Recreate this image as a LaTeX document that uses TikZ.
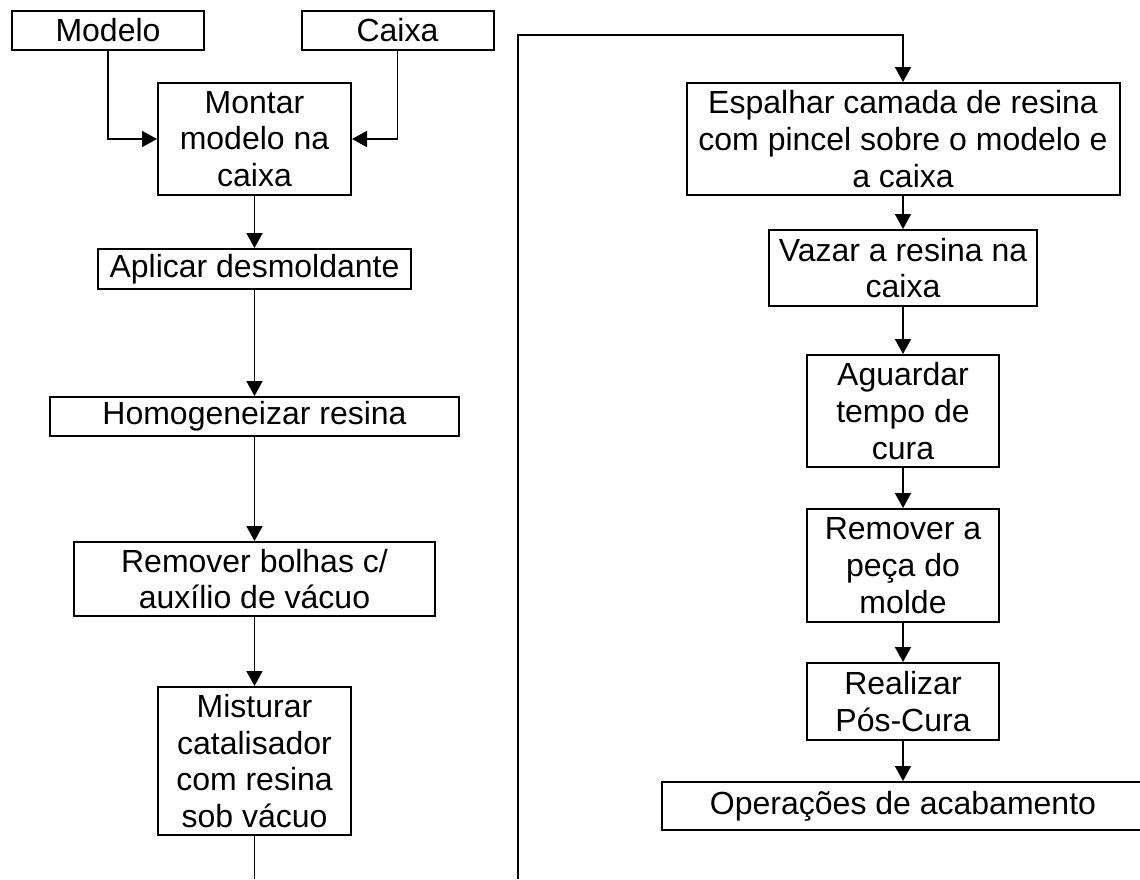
\documentclass[tikz,border=0pt]{standalone}
\usepackage{fontspec}
\setmainfont{Liberation Sans}
\usetikzlibrary{arrows.meta}
\begin{document}
\begin{tikzpicture}[x=1pt,y=-1pt,
  every node/.style={font=\fontsize{32}{36.8}\selectfont},
  box/.style={draw,line width=2pt,inner sep=0pt,align=center},
  conn/.style={line width=1.8pt},
  arr/.style={conn,-{Triangle[length=15pt,width=16pt]}}]
\useasboundingbox (0,0) rectangle (1140,879);
% left column
\node[box,minimum width=192pt,minimum height=39pt] (modelo) at (108,30.5) {Modelo};
\node[box,minimum width=192pt,minimum height=39pt] (caixa) at (397.5,30.5) {Caixa};
\node[box,minimum width=193pt,minimum height=112pt] (montar) at (254.5,139) {Montar\\modelo na\\caixa};
\node[box,minimum width=313pt,minimum height=40pt] (aplicar) at (254.5,269) {Aplicar desmoldante};
\node[box,minimum width=409pt,minimum height=39pt] (homog) at (254.5,416.5) {Homogeneizar resina};
\node[box,minimum width=361pt,minimum height=74pt] (bolhas) at (254.5,579) {Remover bolhas c/\\auxílio de vácuo};
\node[box,minimum width=193pt,minimum height=148pt] (mist) at (254.5,761) {Misturar\\catalisador\\com resina\\sob vácuo};
% right column
\node[box,minimum width=433pt,minimum height=112pt] (esp) at (903,139) {Espalhar camada de resina\\com pincel sobre o modelo e\\a caixa};
\node[box,minimum width=268pt,minimum height=76pt] (vazar) at (903,268) {Vazar a resina na\\caixa};
\node[box,minimum width=192pt,minimum height=112pt] (aguard) at (903,411) {Aguardar\\tempo de\\cura};
\node[box,minimum width=192pt,minimum height=113pt] (remov) at (903,565.5) {Remover a\\peça do\\molde};
\node[box,minimum width=192pt,minimum height=77pt] (realiz) at (903,701.5) {Realizar\\Pós-Cura};
\node[box,minimum width=482pt,minimum height=48pt] (oper) at (903,806) {Operações de acabamento};
% coordinates
\coordinate (endA) at (254.5,879);
\coordinate (startB) at (518,879);
\coordinate (topB) at (518,35);
% connectors
\draw[arr] (modelo.south) |- (montar.west);
\draw[arr] (caixa.south) |- (montar.east);
\draw[arr] (montar) -- (aplicar);
\draw[arr] (aplicar) -- (homog);
\draw[arr] (homog) -- (bolhas);
\draw[arr] (bolhas) -- (mist);
\draw[conn] (mist.south) -- (endA);
\draw[arr] (startB) -- (topB) -| (esp.north);
\draw[arr] (esp) -- (vazar);
\draw[arr] (vazar) -- (aguard);
\draw[arr] (aguard) -- (remov);
\draw[arr] (remov) -- (realiz);
\draw[arr] (realiz) -- (oper);
\end{tikzpicture}
\end{document}
